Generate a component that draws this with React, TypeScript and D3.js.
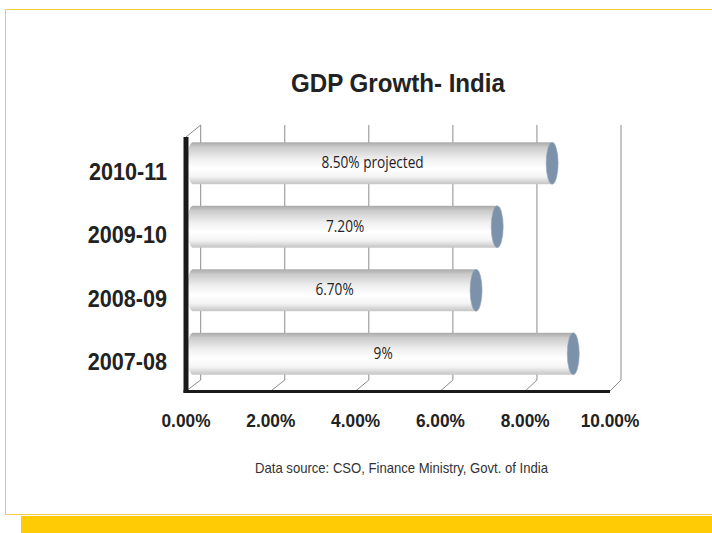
import React from "react";
import * as d3 from "d3";

const categories = ["2010-11", "2009-10", "2008-09", "2007-08"];
const growth = [8.5, 7.2, 6.7, 9];
const barLabels = ["8.50% projected", "7.20%", "6.70%", "9%"];
const xTicks = [0, 2, 4, 6, 8, 10];
const xTickLabels = ["0.00%", "2.00%", "4.00%", "6.00%", "8.00%", "10.00%"];
const title = "GDP Growth- India";
const source = "Data source: CSO, Finance Ministry, Govt. of India";

const W = 712;
const H = 533;

export default function App() {
  const xFront = d3.scaleLinear().domain([0, 10]).range([186, 610]);
  const xBack = d3.scaleLinear().domain([0, 10]).range([200.7, 621]);
  const xMid = d3.scaleLinear().domain([0, 10]).range([193, 615.5]);
  const yFront = d3.scaleBand<string>().domain(categories).range([137, 391]).padding(0);
  const depthDy = -5.5;
  const backTop = 125;
  const backBottom = 380;
  const frontBottom = 391;
  const barH = yFront.bandwidth() * 0.66;
  const capRx = 6;
  const narrow = 0.91;
  const font = "'Liberation Sans', Arial, sans-serif";

  return (
    <svg width={W} height={H} style={{ position: "absolute", left: 0, top: 0, background: "#fff" }}>
      <defs>
        <linearGradient id="cyl" x1="0" y1="0" x2="0" y2="1">
          <stop offset="0" stopColor="#a9a9a9" />
          <stop offset="0.12" stopColor="#cbcbcb" />
          <stop offset="0.4" stopColor="#f0f0f0" />
          <stop offset="0.62" stopColor="#ffffff" />
          <stop offset="0.82" stopColor="#f4f4f4" />
          <stop offset="1" stopColor="#c4c4c4" />
        </linearGradient>
      </defs>
      {/* frame */}
      <rect x={5.5} y={9.5} width={W} height={505} fill="none" stroke="#f2cc45" strokeWidth={1} />
      <rect x={21} y={516} width={W - 21} height={H - 516} fill="#ffcb05" />

      {/* title */}
      <text
        transform={`translate(398,92) scale(${narrow},1)`}
        textAnchor="middle"
        fontFamily={font}
        fontWeight="bold"
        fontSize={26.5}
        fill="#222"
      >
        {title}
      </text>

      {/* back wall gridlines */}
      {xTicks.map((t) => (
        <line key={"g" + t} x1={xBack(t)} x2={xBack(t)} y1={backTop} y2={backBottom} stroke="#8c8c8c" strokeWidth={1} />
      ))}
      {/* floor diagonals */}
      {xTicks.map((t) => (
        <line key={"f" + t} x1={xBack(t)} x2={xFront(t)} y1={backBottom} y2={frontBottom} stroke="#8c8c8c" strokeWidth={1} />
      ))}
      {/* left wall top edge */}
      <line x1={xFront(0)} y1={137} x2={xBack(0)} y2={backTop} stroke="#8c8c8c" strokeWidth={1} />

      {/* bars */}
      {categories.map((c, i) => {
        const cy = (yFront(c) as number) + yFront.bandwidth() / 2 + depthDy;
        const x0 = xMid(0);
        const x1 = xMid(growth[i]);
        return (
          <g key={c}>
            <ellipse cx={x0} cy={cy} rx={capRx} ry={barH / 2} fill="url(#cyl)" />
            <rect x={x0} y={cy - barH / 2} width={x1 - x0} height={barH} fill="url(#cyl)" />
            <ellipse cx={x1} cy={cy} rx={capRx} ry={barH / 2} fill="#7c92ab" stroke="#95a7bb" strokeWidth={0.6} />
            <text
              transform={`translate(${(x0 + x1) / 2},${cy + 5}) scale(0.88,1)`}
              textAnchor="middle"
              fontFamily="'Open Sans', 'Noto Sans', sans-serif"
              fontSize={15.5}
              fill="#222"
            >
              {barLabels[i]}
            </text>
          </g>
        );
      })}

      {/* axes front edges */}
      <line x1={xFront(0)} x2={xFront(0)} y1={137} y2={frontBottom + 1.5} stroke="#1a1a1a" strokeWidth={5} />
      <line x1={xFront(0) - 2.5} x2={xFront(10)} y1={frontBottom + 0.5} y2={frontBottom + 0.5} stroke="#1a1a1a" strokeWidth={3} />

      {/* category labels */}
      {categories.map((c) => (
        <text
          key={"l" + c}
          transform={`translate(167,${(yFront(c) as number) + yFront.bandwidth() / 2 + 11}) scale(0.9,1)`}
          textAnchor="end"
          fontFamily={font}
          fontWeight="bold"
          fontSize={24}
          fill="#222"
        >
          {c}
        </text>
      ))}

      {/* x tick labels */}
      {xTicks.map((t, i) => (
        <text
          key={"x" + t}
          transform={`translate(${xFront(t)},427) scale(${narrow},1)`}
          textAnchor="middle"
          fontFamily={font}
          fontWeight="bold"
          fontSize={19}
          fill="#222"
        >
          {xTickLabels[i]}
        </text>
      ))}

      {/* source */}
      <text
        transform={`translate(401.5,473) scale(${narrow},1)`}
        textAnchor="middle"
        fontFamily={font}
        fontSize={14.4}
        fill="#333"
      >
        {source}
      </text>
    </svg>
  );
}
